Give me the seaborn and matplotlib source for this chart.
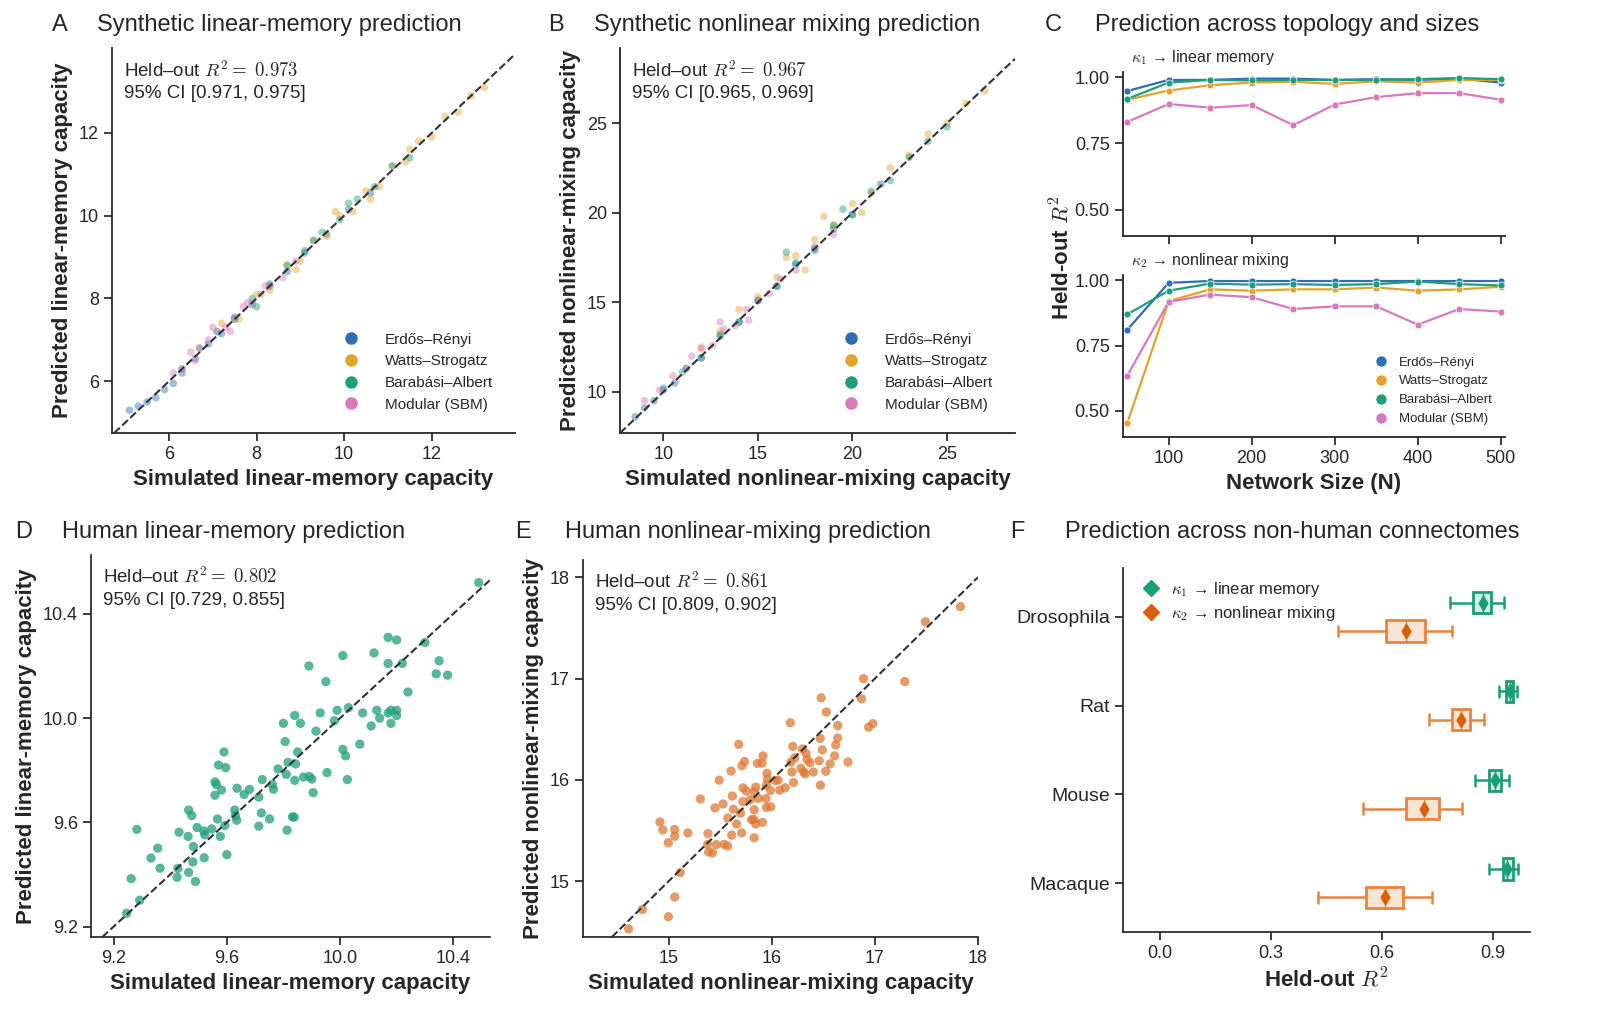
import numpy as np
import pandas as pd
import matplotlib
matplotlib.use("Agg")
import matplotlib.pyplot as plt
from matplotlib.lines import Line2D
import seaborn as sns

sns.set_theme(style="ticks")
plt.rcParams['font.family'] = ['Liberation Sans', 'DejaVu Sans']
plt.rcParams['mathtext.fontset'] = 'cm'

topos = ["Erdős–Rényi", "Watts–Strogatz", "Barabási–Albert", "Modular (SBM)"]
topo_colors = ["#2f6db5", "#e5a22a", "#1f9e7a", "#d978bb"]

# ---- Panel A: synthetic linear memory (sim, pred) ----
a_er_x = [5.1,5.3,5.5,5.7,5.9,6.1,6.3,6.6,6.9,7.2,7.5,7.9,8.3,8.7,9.1,9.6,10.1,10.6]
a_er_y = [5.3,5.4,5.5,5.6,5.8,5.95,6.2,6.55,6.9,7.15,7.55,7.85,8.35,8.65,9.15,9.55,10.15,10.55]
a_ws_x = [7.2,7.6,8.0,8.3,8.7,9.0,9.3,9.6,9.9,10.2,10.5,10.8,11.1,11.4,11.7,12.0,12.3,12.6,12.9,13.2,8.9,9.8,10.6,11.5]
a_ws_y = [7.4,7.5,8.1,8.2,8.8,8.9,9.4,9.5,10.0,10.1,10.6,10.7,11.2,11.3,11.8,11.9,12.4,12.5,12.9,13.1,8.7,10.1,10.4,11.6]
a_ba_x = [6.3,6.7,7.1,7.5,7.9,8.3,8.7,9.1,9.5,9.9,10.3,10.7,11.1,11.5,8.0,9.3,10.1]
a_ba_y = [6.3,6.8,7.2,7.5,8.0,8.3,8.8,9.1,9.6,9.9,10.4,10.7,11.2,11.4,7.8,9.4,10.3]
a_sbm_x = [6.1,6.3,6.5,6.7,6.9,7.1,7.3,7.5,7.7,7.9,8.1,8.3,8.6,8.9,6.6,7.0,7.4,7.8,8.2]
a_sbm_y = [6.2,6.3,6.7,6.8,7.0,7.2,7.3,7.5,7.8,7.9,8.1,8.3,8.5,8.9,6.5,7.3,7.2,7.9,8.3]

# ---- Panel B: synthetic nonlinear mixing ----
b_er_x = [8.5,9,9.5,10,10.6,11.2,12,13,14,15,16,17,18,19,20,21.5]
b_er_y = [8.6,9.1,9.5,10.1,10.5,11.3,11.9,13.1,13.9,15.1,15.9,17.1,17.9,19.1,19.9,21.6]
b_ws_x = [12,13,14,15,16,17,17.5,18,19,20,21,22,23,24,25,26,27,16.5,18.5,20.5]
b_ws_y = [12.5,13.4,14.6,15.3,16.4,17.6,16.8,18.5,19.3,20.5,21.1,22.5,23.2,24.4,25.0,26.1,26.8,17.5,19.8,20.0]
b_ba_x = [10,11,12,13,14,15,16,17,18,19,20,21,22,23,24,25,16.5,19.5]
b_ba_y = [10.2,11.1,11.9,13.2,13.9,15.1,15.9,17.2,18.0,19.3,19.9,21.2,21.8,23.1,24.0,24.8,17.8,20.2]
b_sbm_x = [9,9.8,10.5,11.2,12,12.6,13.2,13.8,14.4,15,15.6,16.2,17,18,19,11.5,13,14.5]
b_sbm_y = [9.5,10.1,10.9,11.3,12.4,12.6,13.5,13.7,14.6,15.1,15.5,16.3,16.8,18.1,18.8,12.0,13.9,14.0]

# ---- Panel C: held-out R2 vs network size ----
sizes = [50,100,150,200,250,300,350,400,450,500]
c1_er  = [0.948,0.99,0.99,0.995,0.995,0.99,0.993,0.99,0.995,0.98]
c1_ws  = [0.915,0.95,0.97,0.98,0.983,0.975,0.985,0.98,0.99,0.99]
c1_ba  = [0.918,0.98,0.99,0.988,0.99,0.99,0.99,0.993,0.997,0.993]
c1_sbm = [0.831,0.899,0.885,0.895,0.819,0.897,0.925,0.94,0.94,0.915]
c2_er  = [0.81,0.99,0.997,0.997,0.997,0.997,0.997,0.997,0.997,0.997]
c2_ws  = [0.452,0.92,0.965,0.96,0.965,0.965,0.972,0.96,0.965,0.975]
c2_ba  = [0.869,0.96,0.987,0.983,0.985,0.982,0.985,0.995,0.985,0.98]
c2_sbm = [0.634,0.917,0.945,0.935,0.89,0.9,0.9,0.83,0.89,0.88]

# ---- Panel D: human linear memory ----
d_sim = [10.49,10.17,10.20,10.30,10.12,10.01,10.17,10.22,10.35,10.34,10.38,9.89,9.95,10.24,9.84,9.86,9.80,9.93,9.99,10.03,
         10.08,10.13,10.14,10.17,10.18,10.20,10.20,10.18,10.11,9.98,9.915,9.806,10.07,9.59,9.85,10.01,10.02,9.571,9.596,9.816,
         9.843,9.781,9.81,9.84,9.871,9.891,9.90,9.954,10.026,9.558,9.563,9.581,9.558,9.636,9.68,9.661,9.725,9.761,9.765,9.713,
         9.905,9.465,9.476,9.628,9.63,9.635,9.567,9.593,9.722,9.751,9.832,9.838,9.713,9.813,9.282,9.495,9.519,9.547,9.522,9.431,
         9.463,9.577,9.482,9.356,9.332,9.52,9.60,9.48,9.364,9.427,9.424,9.465,9.489,9.262,9.292,9.246]
d_pred = [10.52,10.31,10.30,10.29,10.25,10.24,10.21,10.21,10.22,10.17,10.165,10.20,10.14,10.10,10.01,9.98,9.98,10.02,10.03,10.04,
          10.02,10.03,10.00,10.02,10.03,10.03,10.01,9.98,9.97,9.99,9.95,9.91,9.90,9.87,9.87,9.88,9.855,9.82,9.81,9.83,
          9.824,9.805,9.784,9.761,9.774,9.776,9.766,9.791,9.764,9.755,9.745,9.724,9.704,9.731,9.726,9.707,9.764,9.746,9.727,9.697,
          9.714,9.647,9.626,9.647,9.626,9.608,9.613,9.588,9.636,9.613,9.621,9.62,9.585,9.57,9.573,9.58,9.567,9.575,9.552,9.562,
          9.546,9.546,9.507,9.501,9.463,9.464,9.476,9.448,9.424,9.423,9.389,9.408,9.373,9.384,9.301,9.251]

# ---- Panel E: human nonlinear mixing ----
e_sim = [17.83,17.49,16.89,17.29,16.48,16.87,16.53,16.18,16.94,16.98,16.64,16.47,16.64,16.62,16.49,16.61,16.565,16.74,16.46,16.525,
         16.404,16.323,16.311,16.283,16.298,16.333,16.342,16.37,16.205,16.224,16.187,16.196,16.211,16.472,15.68,15.736,15.711,15.861,15.916,15.907,
         15.954,15.957,16.034,16.062,16.131,16.078,15.988,15.948,15.991,15.948,15.944,15.87,15.845,15.833,15.755,15.721,15.606,15.491,15.618,15.628,
         15.721,15.792,15.696,15.659,15.575,15.528,15.45,15.308,15.83,15.826,15.805,15.845,15.91,15.83,15.708,15.612,15.572,15.538,15.463,15.382,
         15.379,15.388,15.426,15.187,15.059,15.059,14.997,14.916,14.944,15.112,15.059,14.746,14.998,14.612]
e_pred = [17.71,17.56,17.00,16.97,16.81,16.80,16.67,16.565,16.52,16.555,16.536,16.41,16.413,16.344,16.296,16.237,16.159,16.176,16.189,16.085,
          16.078,16.059,16.078,16.114,16.305,16.26,16.201,16.169,16.331,16.218,16.176,16.078,15.974,15.948,16.351,16.182,16.14,16.163,16.237,16.166,
          16.065,16.007,15.994,15.997,15.922,15.9,15.896,15.948,15.734,15.728,15.815,15.818,15.929,15.883,15.89,15.922,16.088,15.997,15.841,15.711,
          15.786,15.805,15.672,15.565,15.624,15.763,15.724,15.812,15.705,15.611,15.607,15.565,15.581,15.429,15.477,15.455,15.348,15.364,15.361,15.471,
          15.364,15.289,15.28,15.477,15.51,15.445,15.38,15.585,15.507,15.085,14.844,14.721,14.65,14.53]

# ---- Panel F: non-human connectomes (box stats) ----
species = ["Drosophila", "Rat", "Mouse", "Macaque"]
k1_lo  = [0.784,0.916,0.851,0.889]
k1_q1  = [0.845,0.936,0.889,0.926]
k1_med = [0.873,0.946,0.905,0.939]
k1_q3  = [0.895,0.955,0.921,0.953]
k1_hi  = [0.929,0.965,0.942,0.968]
k2_lo  = [0.480,0.727,0.548,0.427]
k2_q1  = [0.611,0.788,0.664,0.558]
k2_med = [0.665,0.814,0.714,0.608]
k2_q3  = [0.715,0.838,0.755,0.657]
k2_hi  = [0.790,0.875,0.815,0.734]

W, H = 1600, 1032
fig = plt.figure(figsize=(16, 10.32), dpi=100)

def box(l, t, r, b):
    return [l / W, 1 - b / H, (r - l) / W, (b - t) / H]

def panel_title(x_letter, x_title, y, letter, title):
    fig.text(x_letter / W, 1 - y / H, letter, fontsize=17, va='center', ha='left')
    fig.text(x_title / W, 1 - y / H, title, fontsize=17, va='center', ha='left')

def annot(ax, r2, ci):
    ax.text(0.03, 0.97, r"Held–out $R^2 =$ $" + r2 + "$\n" + ci, transform=ax.transAxes,
            va='top', ha='left', fontsize=13.5, linespacing=1.35)

def synth_panel(ax, groups, xlab, ylab, xlim, ylim, ticks):
    rows = []
    for name, (xs, ys) in zip(topos, groups):
        for xv, yv in zip(xs, ys):
            rows.append((name, xv, yv))
    df = pd.DataFrame(rows, columns=["topo", "sim", "pred"])
    sns.scatterplot(data=df, x="sim", y="pred", hue="topo", hue_order=topos,
                    palette=topo_colors, s=30, alpha=0.45, edgecolor='none', ax=ax, legend=False)
    ax.axline((xlim[0], xlim[0]), slope=1, ls='--', color='#333333', lw=1.5, zorder=5)
    ax.set_xlim(*xlim); ax.set_ylim(*ylim)
    ax.set_xticks(ticks); ax.set_yticks(ticks)
    ax.set_xlabel(xlab, fontsize=16, fontweight='bold')
    ax.set_ylabel(ylab, fontsize=16, fontweight='bold')
    handles = [Line2D([], [], marker='o', ls='', color=c, markersize=8) for c in topo_colors]
    ax.legend(handles, topos, loc='lower right', frameon=False, fontsize=11,
              handletextpad=1.2, bbox_to_anchor=(0.98, 0.02))
    ax.tick_params(labelsize=13)
    sns.despine(ax=ax)
    for s in ax.spines.values():
        s.set_linewidth(1.3)

# Panel A
axA = fig.add_axes(box(112, 48, 515, 433))
synth_panel(axA, [(a_er_x, a_er_y), (a_ws_x, a_ws_y), (a_ba_x, a_ba_y), (a_sbm_x, a_sbm_y)],
            "Simulated linear-memory capacity", "Predicted linear-memory capacity",
            (4.7, 13.9), (4.75, 14.05), [6, 8, 10, 12])
annot(axA, "0.973", "95% CI [0.971, 0.975]")
panel_title(52, 97, 25, "A", "Synthetic linear-memory prediction")

# Panel B
axB = fig.add_axes(box(620, 48, 1015, 433))
synth_panel(axB, [(b_er_x, b_er_y), (b_ws_x, b_ws_y), (b_ba_x, b_ba_y), (b_sbm_x, b_sbm_y)],
            "Simulated nonlinear-mixing capacity", "Predicted nonlinear-mixing capacity",
            (7.7, 28.6), (7.7, 29.2), [10, 15, 20, 25])
annot(axB, "0.967", "95% CI [0.965, 0.969]")
panel_title(548, 594, 25, "B", "Synthetic nonlinear mixing prediction")

# Panel C
panel_title(1045, 1095, 25, "C", "Prediction across topology and sizes")
axC1 = fig.add_axes(box(1123, 72, 1505, 236))
axC2 = fig.add_axes(box(1123, 275, 1505, 437))
for ax, series, lab in [(axC1, [c1_er, c1_ws, c1_ba, c1_sbm], r"$\kappa_1$ → linear memory"),
                        (axC2, [c2_er, c2_ws, c2_ba, c2_sbm], r"$\kappa_2$ → nonlinear mixing")]:
    for name, vals, col in zip(topos, series, topo_colors):
        sns.lineplot(x=sizes, y=vals, ax=ax, color=col, marker='o', markersize=5,
                     markeredgecolor='white', markeredgewidth=0.5, lw=1.6, label=name)
    ax.set_ylim(0.40, 1.02)
    ax.set_xlim(45, 505)
    ax.set_yticks([0.5, 0.75, 1.0])
    ax.set_yticklabels(["0.50", "0.75", "1.00"])
    ax.set_xticks([100, 200, 300, 400, 500])
    ax.tick_params(labelsize=13)
    ax.set_ylabel("")
    ax.text(0.02, 1.03, lab, transform=ax.transAxes, fontsize=11.5, va='bottom', ha='left')
    sns.despine(ax=ax)
    for s in ax.spines.values():
        s.set_linewidth(1.3)
axC1.set_xticklabels([])
axC1.get_legend().remove()
axC2.legend(loc='lower right', frameon=False, fontsize=9.5, handlelength=0.8, markerscale=1.6,
            handletextpad=1.0)
for lh in axC2.get_legend().get_lines():
    lh.set_linestyle('')
axC2.set_xlabel("Network Size (N)", fontsize=16, fontweight='bold')
fig.text(1062 / W, 1 - 258 / H, r"Held-out $R^2$", rotation=90, fontsize=16,
         fontweight='bold', va='center', ha='center')

# Panel D
axD = fig.add_axes(box(91, 555, 490, 937))
sns.scatterplot(x=d_sim, y=d_pred, ax=axD, color="#1f9e7a", s=45, alpha=0.75, edgecolor='none')
axD.axline((9.2, 9.2), slope=1, ls='--', color='#333333', lw=1.5)
axD.set_xlim(9.12, 10.53); axD.set_ylim(9.16, 10.626)
axD.set_xticks([9.2, 9.6, 10.0, 10.4]); axD.set_yticks([9.2, 9.6, 10.0, 10.4])
axD.set_xlabel("Simulated linear-memory capacity", fontsize=16, fontweight='bold')
axD.set_ylabel("Predicted linear-memory capacity", fontsize=16, fontweight='bold')
axD.tick_params(labelsize=13)
annot(axD, "0.802", "95% CI [0.729, 0.855]")
sns.despine(ax=axD)
panel_title(15, 62, 532, "D", "Human linear-memory prediction")

# Panel E
axE = fig.add_axes(box(583, 560, 978, 937))
sns.scatterplot(x=e_sim, y=e_pred, ax=axE, color="#dd7a35", s=45, alpha=0.75, edgecolor='none')
axE.axline((15, 15), slope=1, ls='--', color='#333333', lw=1.5)
axE.set_xlim(14.17, 17.9); axE.set_ylim(14.45, 18.17)
axE.set_xticks([15, 16, 17, 18]); axE.set_yticks([15, 16, 17, 18])
axE.set_xlabel("Simulated nonlinear-mixing capacity", fontsize=16, fontweight='bold')
axE.set_ylabel("Predicted nonlinear-mixing capacity", fontsize=16, fontweight='bold')
axE.tick_params(labelsize=13)
annot(axE, "0.861", "95% CI [0.809, 0.902]")
sns.despine(ax=axE)
panel_title(515, 565, 532, "E", "Human nonlinear-mixing prediction")

# Panel F
panel_title(1010, 1065, 532, "F", "Prediction across non-human connectomes")
axF = fig.add_axes(box(1123, 568, 1530, 932))
green, orange = "#1b9e77", "#e8843c"
for i in range(len(species)):
    for lo, q1, med, q3, hi, off, col, face in [
        (k1_lo, k1_q1, k1_med, k1_q3, k1_hi, -0.16, green, (0.106, 0.62, 0.467, 0.18)),
        (k2_lo, k2_q1, k2_med, k2_q3, k2_hi, 0.16, orange, (0.91, 0.52, 0.24, 0.22))]:
        st = [dict(whislo=lo[i], q1=q1[i], med=med[i], q3=q3[i], whishi=hi[i], fliers=[])]
        axF.bxp(st, positions=[i + off], widths=0.24, vert=False, patch_artist=True, showfliers=False,
                boxprops=dict(facecolor=face, edgecolor=col, lw=2),
                whiskerprops=dict(color=col, lw=1.8), capprops=dict(color=col, lw=1.8),
                medianprops=dict(color=col, lw=1.0), capwidths=0.12)
        axF.scatter([med[i]], [i + off], marker='d', s=55,
                    color="#1b9e77" if off < 0 else "#d95f02", zorder=5)
axF.set_ylim(3.55, -0.55)
axF.set_yticks(range(len(species)))
axF.set_yticklabels(species, fontsize=14)
axF.set_xlim(-0.1, 1.0)
axF.set_xticks([0.0, 0.3, 0.6, 0.9])
axF.tick_params(axis='x', labelsize=13)
axF.set_xlabel(r"Held-out $R^2$", fontsize=16, fontweight='bold')
hF = [Line2D([], [], marker='D', ls='', color="#1b9e77", markersize=8),
      Line2D([], [], marker='D', ls='', color="#d95f02", markersize=8)]
axF.legend(hF, [r"$\kappa_1$ → linear memory", r"$\kappa_2$ → nonlinear mixing"], loc='upper left',
           frameon=False, fontsize=12, handletextpad=0.2, borderaxespad=0.3, labelspacing=0.3)
sns.despine(ax=axF)

fig.savefig("out.png", dpi=100)
